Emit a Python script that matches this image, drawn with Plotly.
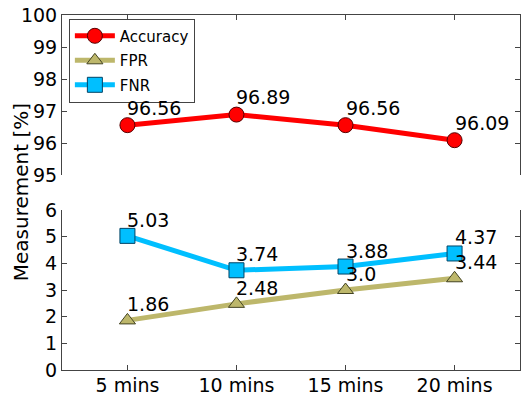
import plotly.graph_objects as go

categories = ["5 mins", "10 mins", "15 mins", "20 mins"]
accuracy = [96.56, 96.89, 96.56, 96.09]
fpr = [1.86, 2.48, 3.0, 3.44]
fnr = [5.03, 3.74, 3.88, 4.37]
acc_labels = ["96.56", "96.89", "96.56", "96.09"]
fpr_labels = ["1.86", "2.48", "3.0", "3.44"]
fnr_labels = ["5.03", "3.74", "3.88", "4.37"]

FONT = "DejaVu Sans"
AX = "#444444"

fig = go.Figure()
fig.add_trace(go.Scatter(
    x=categories, y=accuracy, name="Accuracy", mode="lines+markers", legendgroup="a",
    line=dict(color="#ff0000", width=5),
    marker=dict(symbol="circle", size=15, color="#ff0000", line=dict(color="#550000", width=1)),
    xaxis="x2", yaxis="y2"))
fig.add_trace(go.Scatter(
    x=categories, y=fpr, name="FPR", mode="lines+markers", legendgroup="b",
    line=dict(color="#bdb76b", width=5),
    marker=dict(symbol="triangle-up", size=14, color="#bdb76b", line=dict(color="#444422", width=1)),
    xaxis="x", yaxis="y"))
fig.add_trace(go.Scatter(
    x=categories, y=fnr, name="FNR", mode="lines+markers", legendgroup="c",
    line=dict(color="#00bfff", width=5),
    marker=dict(symbol="square", size=15, color="#00bfff", line=dict(color="#004466", width=1)),
    xaxis="x", yaxis="y"))

ann = []
for c, v, t in zip(categories, accuracy, acc_labels):
    ann.append(dict(x=c, y=v + 0.3, xref="x2", yref="y2", text=t, showarrow=False,
                    xanchor="left", yanchor="bottom", xshift=-2, yshift=-5,
                    font=dict(family=FONT, size=19, color="black")))
for vals, labs in ((fpr, fpr_labels), (fnr, fnr_labels)):
    for c, v, t in zip(categories, vals, labs):
        ann.append(dict(x=c, y=v + 0.3, xref="x", yref="y", text=t, showarrow=False,
                        xanchor="left", yanchor="bottom", xshift=-2, yshift=-5,
                        font=dict(family=FONT, size=19, color="black")))
ann.append(dict(x=-0.09, y=0.5, xref="paper", yref="paper", text="Measurement [%]",
                showarrow=False, textangle=-90, xanchor="center", yanchor="middle",
                font=dict(family=FONT, size=20, color="black")))

common_x = dict(type="category", range=[-0.6, 3.6], showgrid=False, zeroline=False,
                showline=True, linecolor=AX, linewidth=1, ticks="inside", ticklen=5,
                tickcolor=AX, automargin=False,
                tickfont=dict(family=FONT, size=19, color="black"))
common_y = dict(showgrid=False, zeroline=False, showline=True, mirror="ticks",
                linecolor=AX, linewidth=1, ticks="inside", ticklen=5, tickcolor=AX,
                dtick=1, automargin=False, tickfont=dict(family=FONT, size=19, color="black"))

fig.update_layout(
    width=521, height=396,
    margin=dict(l=62, r=1, t=15, b=26, autoexpand=False),
    paper_bgcolor="white", plot_bgcolor="white",
    xaxis=dict(**common_x, anchor="y", side="bottom", ticklabelstandoff=-2),
    xaxis2=dict(**common_x, anchor="y2", side="top", matches="x", showticklabels=False),
    yaxis=dict(**common_y, domain=[0, 0.4507], range=[0, 6], anchor="x"),
    yaxis2=dict(**common_y, domain=[0.549, 1], range=[95, 100], anchor="x2"),
    showlegend=True,
    legend=dict(x=0.015, y=0.99, xanchor="left", yanchor="top", bgcolor="white",
                bordercolor=AX, borderwidth=1, font=dict(family=FONT, size=15, color="black"),
                itemwidth=40, traceorder="grouped", tracegroupgap=2),
    annotations=ann,
    font=dict(family=FONT),
)
fig.write_html("out.html")
